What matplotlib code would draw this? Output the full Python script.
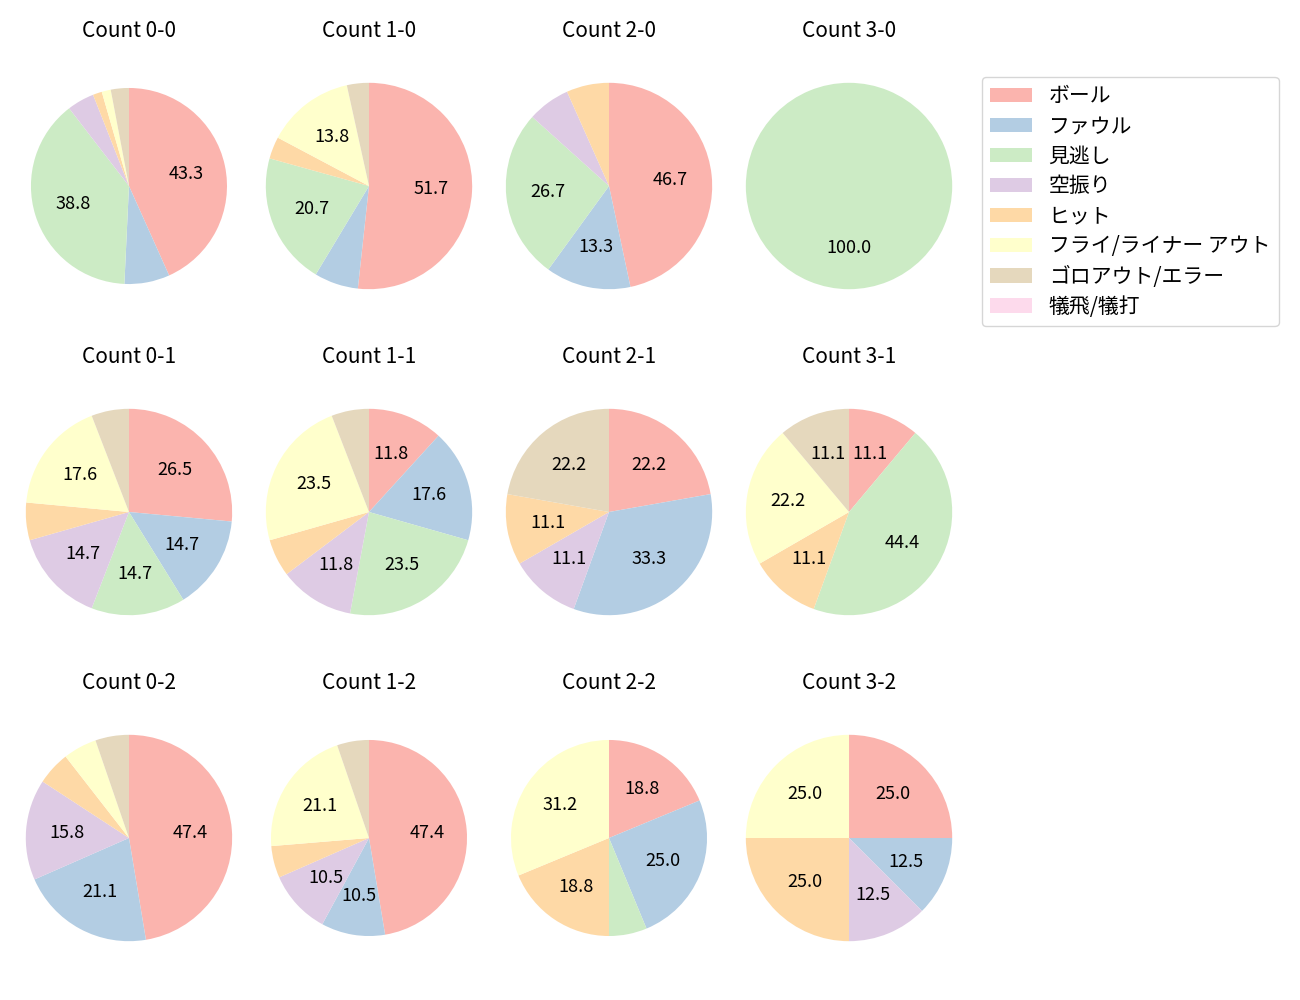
import matplotlib
matplotlib.use('Agg')
import matplotlib.pyplot as plt
from matplotlib.patches import Patch

plt.rcParams['font.family'] = ['Noto Sans CJK JP', 'DejaVu Sans']

results = ['ボール', 'ファウル', '見逃し', '空振り', 'ヒット',
           'フライ/ライナー アウト', 'ゴロアウト/エラー', '犠飛/犠打']

# pitch results per count (balls-strikes), same order as results
c_0_0 = [29, 5, 26, 3, 1, 1, 2, 0]
c_1_0 = [15, 2, 6, 0, 1, 4, 1, 0]
c_2_0 = [7, 2, 4, 1, 1, 0, 0, 0]
c_3_0 = [0, 0, 1, 0, 0, 0, 0, 0]
c_0_1 = [9, 5, 5, 5, 2, 6, 2, 0]
c_1_1 = [2, 3, 4, 2, 1, 4, 1, 0]
c_2_1 = [2, 3, 0, 1, 1, 0, 2, 0]
c_3_1 = [1, 0, 4, 0, 1, 2, 1, 0]
c_0_2 = [9, 4, 0, 3, 1, 1, 1, 0]
c_1_2 = [9, 2, 0, 2, 1, 4, 1, 0]
c_2_2 = [3, 4, 1, 0, 3, 5, 0, 0]
c_3_2 = [2, 1, 0, 1, 2, 2, 0, 0]

grid = [[('0-0', c_0_0), ('1-0', c_1_0), ('2-0', c_2_0), ('3-0', c_3_0)],
        [('0-1', c_0_1), ('1-1', c_1_1), ('2-1', c_2_1), ('3-1', c_3_1)],
        [('0-2', c_0_2), ('1-2', c_1_2), ('2-2', c_2_2), ('3-2', c_3_2)]]

colors = plt.cm.Pastel1.colors[:len(results)]

# a few pies came out slightly smaller in the original
small = ['0-0', '1-2', '2-2']


def pct_label(p):
    return '%.1f' % p if p >= 10 else ''


fig, axes = plt.subplots(3, 4, figsize=(13, 10), dpi=100)
fig.subplots_adjust(left=0.0119, right=0.7404, top=0.955, bottom=0.021,
                    wspace=0.0573, hspace=0.156)

for r, row in enumerate(grid):
    for c, (name, vals) in enumerate(row):
        ax = axes[r][c]
        rad = 0.95 if name in small else 1.0
        ax.pie(vals, colors=colors, startangle=90, counterclock=False,
               autopct=pct_label, pctdistance=0.6, radius=rad,
               textprops={'fontsize': 13})
        ax.set_xlim(-1.1, 1.1)
        ax.set_ylim(-1.1, 1.1)
        ax.set_aspect('equal', adjustable='datalim')
        ax.set_title('Count ' + name, fontsize=15)

handles = [Patch(facecolor=colors[i]) for i in range(len(results))]
fig.legend(handles, results, loc='upper left', bbox_to_anchor=(0.7554, 0.923),
           borderaxespad=0, fontsize=15, labelspacing=0.385)

fig.savefig('out.png')
